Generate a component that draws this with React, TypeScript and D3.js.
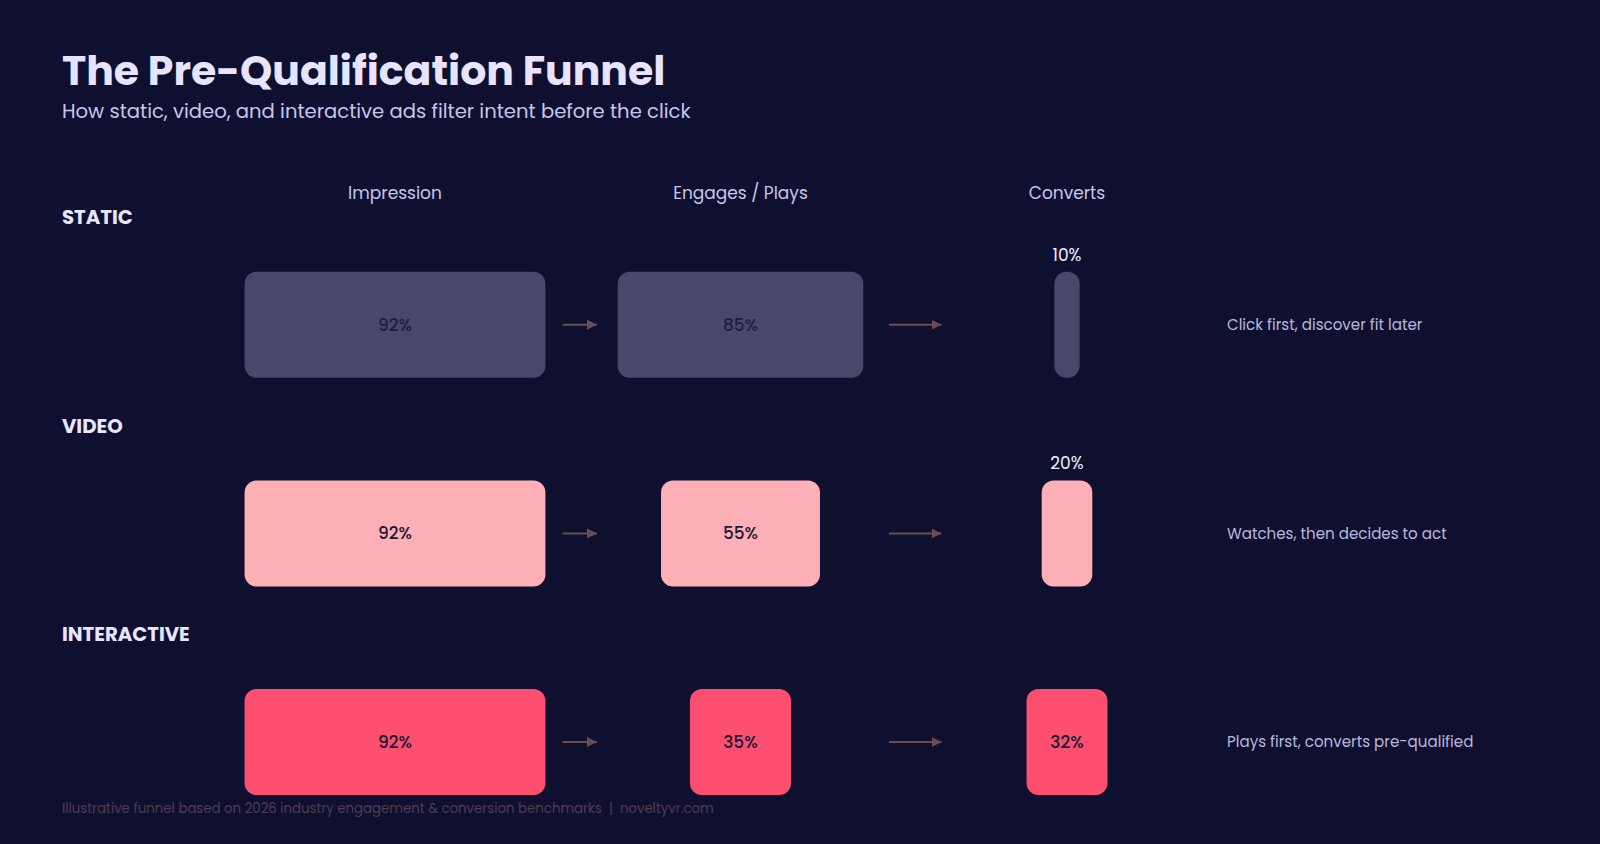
import React, { useEffect } from "react";
import * as d3 from "d3";

// ---- data ----
const stages: string[] = ["Impression", "Engages / Plays", "Converts"];
const formats: string[] = ["STATIC", "VIDEO", "INTERACTIVE"];
const staticValues: number[] = [92, 85, 10];
const videoValues: number[] = [92, 55, 20];
const interactiveValues: number[] = [92, 35, 32];
const notes: string[] = [
  "Click first, discover fit later",
  "Watches, then decides to act",
  "Plays first, converts pre-qualified",
];
const titleText = "The Pre-Qualification Funnel";
const subtitleText = "How static, video, and interactive ads filter intent before the click";
const footerText =
  "Illustrative funnel based on 2026 industry engagement & conversion benchmarks  |  noveltyvr.com";

const seriesValues = [staticValues, videoValues, interactiveValues];
const formatColors = ["#48486a", "#ffb0b7", "#ff4f70"];

// ---- layout ----
const W = 1600;
const H = 844;
const FONT = "Poppins, Inter, 'Noto Sans', sans-serif";
const colCenters = [395, 740.5, 1067];
const colMaxWidths = [327, 289, 253];
const barH = 106;
const rowTop0 = 271.7;
const rowStep = 208.7;

export default function App() {
  useEffect(() => {
    document.body.style.margin = "0";
    document.body.style.background = "#0f1030";
  }, []);

  const widthScales = colMaxWidths.map((m) =>
    d3.scaleLinear().domain([0, 100]).range([0, m])
  );
  const yScale = d3
    .scaleLinear()
    .domain([0, 1])
    .range([rowTop0, rowTop0 + rowStep]);

  return (
    <svg width={W} height={H} style={{ display: "block", background: "#0f1030" }} fontFamily={FONT}>
      <defs>
        <marker id="arrowHead" viewBox="0 0 10 10" refX="10" refY="5" markerWidth="10" markerHeight="10" markerUnits="userSpaceOnUse" orient="auto">
          <path d="M0,0 L10,5 L0,10 Z" fill="#6b4c52" />
        </marker>
      </defs>
      <rect x={0} y={0} width={W} height={H} fill="#0f1030" />

      <text x={62} y={85} fill="#e6e4ff" fontSize={41} fontWeight={700}>
        {titleText}
      </text>
      <text x={62} y={118} fill="#c8c6ec" fontSize={19.6} fontWeight={400}>
        {subtitleText}
      </text>

      {stages.map((s, i) => (
        <text key={s} x={colCenters[i]} y={199} textAnchor="middle" fill="#c8c6ec" fontSize={17} fontWeight={400}>
          {s}
        </text>
      ))}

      {formats.map((f, r) => {
        const top = yScale(r);
        const cy = top + barH / 2;
        const vals = seriesValues[r];
        return (
          <g key={f}>
            <text x={62} y={top - 47.7} fill="#e8e6ff" fontSize={19.7} fontWeight={700}>
              {f}
            </text>
            {vals.map((v, c) => {
              const w = widthScales[c](v);
              const x = colCenters[c] - w / 2;
              const inside = w >= 60;
              return (
                <g key={c}>
                  <rect x={x} y={top} width={w} height={barH} rx={Math.min(12, w / 2)} fill={formatColors[r]} />
                  {inside ? (
                    <text x={colCenters[c]} y={cy} dy="0.35em" textAnchor="middle" fill={r === 0 ? "#1e1d3e" : "#1a1836"} fontSize={17} fontWeight={500}>
                      {v}%
                    </text>
                  ) : (
                    <text x={colCenters[c]} y={top - 11} textAnchor="middle" fill="#f0eeff" fontSize={17} fontWeight={400}>
                      {v}%
                    </text>
                  )}
                </g>
              );
            })}
            {[0, 1].map((c) => {
              const x1 = colCenters[c] + colMaxWidths[c] / 2 + 4;
              const x2 = colCenters[c + 1] - colMaxWidths[c + 1] / 2 + 1;
              return (
                <line key={c} x1={x1} x2={x2} y1={cy} y2={cy} stroke="#6b4c52" strokeWidth={2} markerEnd="url(#arrowHead)" />
              );
            })}
            <text x={1227} y={cy} dy="0.35em" fill="#b9b7dc" fontSize={15.1} fontWeight={400}>
              {notes[r]}
            </text>
          </g>
        );
      })}

      <text x={62} y={813} fill="#4f3c50" fontSize={13.3} fontWeight={400} style={{ whiteSpace: "pre" }}>
        {footerText}
      </text>
    </svg>
  );
}
